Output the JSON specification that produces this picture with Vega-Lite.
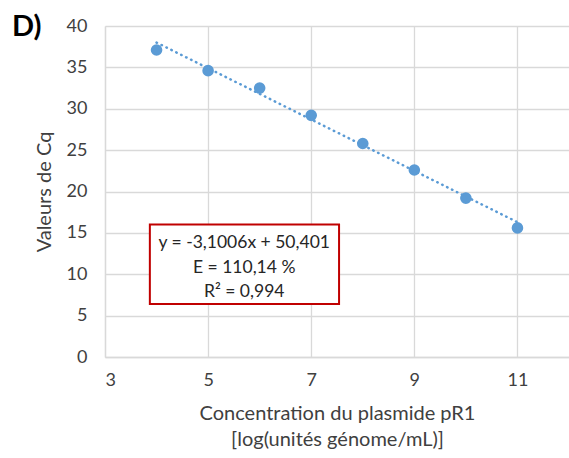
{
  "$schema": "https://vega.github.io/schema/vega-lite/v6.json",
  "width": 464,
  "height": 331,
  "autosize": {"type": "none"},
  "padding": {"left": 105, "top": 26, "right": 0, "bottom": 101},
  "background": "white",
  "title": {
    "text": "D)",
    "anchor": "start",
    "frame": "group",
    "font": "Lato",
    "fontSize": 29,
    "fontWeight": "bold",
    "color": "#000000",
    "baseline": "alphabetic",
    "offset": 0,
    "dx": -93,
    "dy": 48
  },
  "config": {
    "view": {"stroke": null},
    "font": "Lato",
    "axis": {
      "labelFont": "Lato",
      "titleFont": "Lato",
      "labelFontSize": 18,
      "titleFontSize": 20,
      "labelColor": "#404040",
      "titleColor": "#404040",
      "titleFontWeight": "normal",
      "gridColor": "#D9D9D9",
      "gridWidth": 1.3,
      "domainColor": "#D9D9D9",
      "domainWidth": 1.3,
      "ticks": false
    }
  },
  "datasets": {
    "points": [
      {"x": 4, "y": 37.1},
      {"x": 5, "y": 34.6},
      {"x": 6, "y": 32.5},
      {"x": 7, "y": 29.2},
      {"x": 8, "y": 25.8},
      {"x": 9, "y": 22.6},
      {"x": 10, "y": 19.2},
      {"x": 11, "y": 15.6}
    ],
    "trend": [
      {"x": 4, "y": 37.998},
      {"x": 11, "y": 16.294}
    ],
    "box": [
      {"x1": 3.87, "x2": 7.54, "y1": 6.4, "y2": 16.0}
    ],
    "labels": [
      {"x": 5.7, "y": 13.8, "t": "y = -3,1006x + 50,401"},
      {"x": 5.7, "y": 10.8, "t": "E = 110,14 %"},
      {"x": 5.7, "y": 7.9, "t": "R² = 0,994"}
    ]
  },
  "layer": [
    {
      "data": {"name": "points"},
      "mark": {"type": "point", "filled": true, "size": 135, "color": "#5B9BD5", "opacity": 1},
      "encoding": {
        "x": {
          "field": "x", "type": "quantitative",
          "scale": {"domain": [3, 12], "nice": false, "zero": false},
          "axis": {
            "values": [3, 5, 7, 9, 11],
            "labelPadding": 14,
            "title": ["Concentration du plasmide pR1", "[log(unités génome/mL)]"],
            "titlePadding": 14,
            "titleLineHeight": 26
          }
        },
        "y": {
          "field": "y", "type": "quantitative",
          "scale": {"domain": [0, 40], "nice": false},
          "axis": {
            "values": [0, 5, 10, 15, 20, 25, 30, 35, 40],
            "labelPadding": 18,
            "title": "Valeurs de Cq",
            "titlePadding": 12
          }
        }
      }
    },
    {
      "data": {"name": "trend"},
      "mark": {"type": "line", "color": "#5B9BD5", "strokeWidth": 2.5, "strokeDash": [0.5, 5], "strokeCap": "round"},
      "encoding": {
        "x": {"field": "x", "type": "quantitative"},
        "y": {"field": "y", "type": "quantitative"}
      }
    },
    {
      "data": {"name": "box"},
      "mark": {"type": "rect", "fill": "white", "stroke": "#C00000", "strokeWidth": 2},
      "encoding": {
        "x": {"field": "x1", "type": "quantitative"},
        "x2": {"field": "x2"},
        "y": {"field": "y1", "type": "quantitative"},
        "y2": {"field": "y2"}
      }
    },
    {
      "data": {"name": "labels"},
      "mark": {"type": "text", "font": "Lato", "fontSize": 17.5, "color": "#262626", "align": "center", "baseline": "middle"},
      "encoding": {
        "x": {"field": "x", "type": "quantitative"},
        "y": {"field": "y", "type": "quantitative"},
        "text": {"field": "t"}
      }
    }
  ]
}
